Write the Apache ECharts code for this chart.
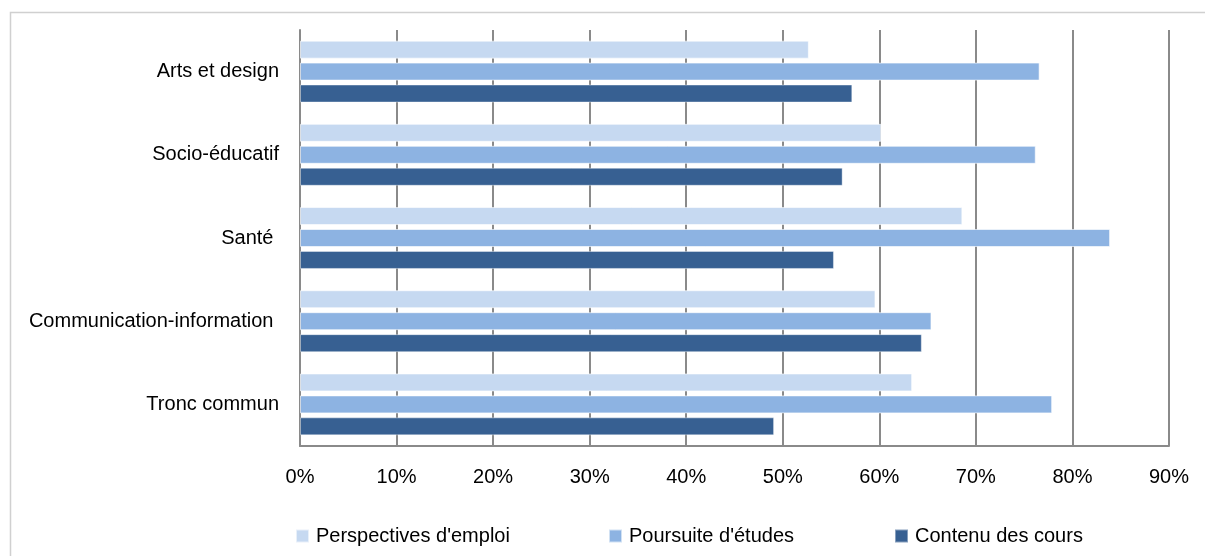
<!DOCTYPE html>
<html>
<head>
<meta charset="utf-8">
<script src="https://cdn.jsdelivr.net/npm/echarts@6/dist/echarts.min.js"></script>
<style>
html,body{margin:0;padding:0;background:#fff;}
#chart{width:1205px;height:556px;}
</style>
</head>
<body>
<div id="chart"></div>
<script>
const categories = ['Arts et design', 'Socio-éducatif', 'Santé ', 'Communication-information ', 'Tronc commun'];
const perspectives = [52.7, 60.2, 68.6, 59.6, 63.4];
const poursuite = [76.6, 76.2, 83.9, 65.4, 77.9];
const contenu = [57.2, 56.2, 55.3, 64.4, 49.1];
const seriesNames = ["Perspectives d'emploi", "Poursuite d'études", 'Contenu des cours'];
const xTicks = [0, 10, 20, 30, 40, 50, 60, 70, 80, 90];

const FONT = '"Liberation Sans Narrow", "Arial Narrow", "Liberation Sans", Arial, sans-serif';
const colors = ['#c6d9f1', '#8db3e2', '#376092'];

const chart = echarts.init(document.getElementById('chart'), null, {renderer: 'canvas'});
const legendLefts = [295, 608, 894];
const option = {
  animation: false,
  backgroundColor: '#fff',
  graphic: [{
    type: 'rect',
    shape: {x: 10.5, y: 12.5, width: 1300, height: 700},
    style: {fill: 'none', stroke: '#d0d0d0', lineWidth: 1.5},
    silent: true
  }],
  grid: {left: 300, right: 36, top: 30, bottom: 110, containLabel: false},
  legend: seriesNames.map((n, i) => ({
    data: [n],
    left: legendLefts[i],
    top: 526,
    padding: 0,
    itemWidth: 13,
    itemHeight: 13,
    itemGap: 0,
    icon: 'rect',
    textStyle: {fontFamily: FONT, fontSize: 20, color: '#000', padding: [0, 0, 0, 2]},
    selectedMode: false
  })),
  xAxis: {
    type: 'value',
    min: 0,
    max: 90,
    interval: 10,
    axisLine: {show: true, lineStyle: {color: '#8a8a8a', width: 2}},
    axisTick: {show: false},
    splitLine: {show: true, lineStyle: {color: '#8a8a8a', width: 2}},
    axisLabel: {
      margin: 21,
      fontFamily: FONT, fontSize: 20, color: '#000',
      formatter: v => xTicks.includes(v) ? v + '%' : ''
    }
  },
  yAxis: {
    type: 'category',
    data: categories,
    inverse: true,
    axisLine: {show: true, lineStyle: {color: '#8a8a8a', width: 2}},
    axisTick: {show: false},
    splitLine: {show: false},
    axisLabel: {margin: 21, fontFamily: FONT, fontSize: 20, color: '#000'}
  },
  series: [
    {name: seriesNames[0], type: 'bar', data: perspectives, barWidth: 18, barGap: '22%',
     itemStyle: {color: colors[0], borderColor: 'rgba(255,255,255,0.6)', borderWidth: 1}},
    {name: seriesNames[1], type: 'bar', data: poursuite, barWidth: 18, barGap: '22%',
     itemStyle: {color: colors[1], borderColor: 'rgba(255,255,255,0.6)', borderWidth: 1}},
    {name: seriesNames[2], type: 'bar', data: contenu, barWidth: 18, barGap: '22%',
     itemStyle: {color: colors[2], borderColor: 'rgba(255,255,255,0.4)', borderWidth: 1}}
  ]
};
chart.setOption(option);
</script>
</body>
</html>
